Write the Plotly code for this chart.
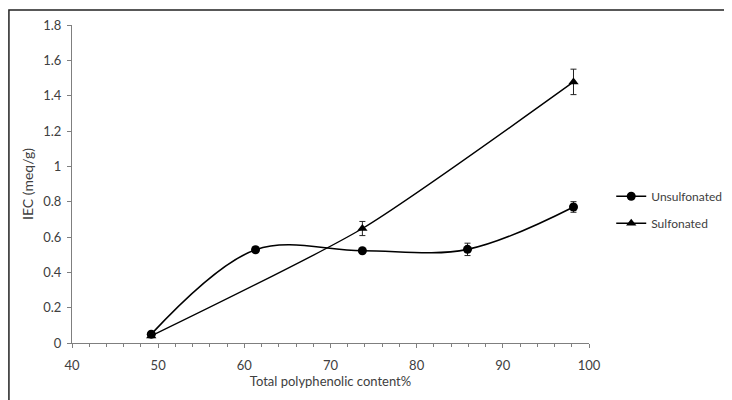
import plotly.graph_objects as go

# Data
x_unsulf = [49.2, 61.3, 73.7, 85.9, 98.2]
y_unsulf = [0.05, 0.528, 0.522, 0.53, 0.77]
e_unsulf = [0.01, 0.015, 0.01, 0.035, 0.03]

x_sulf = [49.2, 73.7, 98.2]
y_sulf = [0.04, 0.648, 1.478]
e_sulf = [0.01, 0.04, 0.072]

x_ticks = [40, 50, 60, 70, 80, 90, 100]
y_ticks = [0, 0.2, 0.4, 0.6, 0.8, 1, 1.2, 1.4, 1.6, 1.8]
y_ticklabels = ["0", "0.2", "0.4", "0.6", "0.8", "1", "1.2", "1.4", "1.6", "1.8"]

FONT = "Lato, 'Open Sans', sans-serif"
TXT = "#404040"

fig = go.Figure()
fig.add_trace(go.Scatter(
    x=x_unsulf, y=y_unsulf, name="Unsulfonated", mode="lines+markers",
    line=dict(color="black", width=1.6, shape="spline", smoothing=1),
    marker=dict(symbol="circle", size=9, color="black"),
    error_y=dict(type="data", array=e_unsulf, color="#222", thickness=1, width=3),
    legendgroup="a",
))
fig.add_trace(go.Scatter(
    x=x_sulf, y=y_sulf, name="Sulfonated", mode="lines+markers",
    line=dict(color="black", width=1.4, shape="spline", smoothing=0.6),
    marker=dict(symbol="triangle-up", size=9, color="black"),
    error_y=dict(type="data", array=e_sulf, color="#222", thickness=1, width=3),
    legendgroup="b",
))

fig.update_layout(
    width=724, height=392,
    margin=dict(l=64, r=143, t=17, b=57, autoexpand=False),
    paper_bgcolor="white", plot_bgcolor="white",
    font=dict(family=FONT, size=13, color=TXT),
    showlegend=True,
    legend=dict(x=1.043, y=0.419, xanchor="left", yanchor="middle",
                font=dict(family=FONT, size=12, color=TXT),
                tracegroupgap=8, bgcolor="rgba(0,0,0,0)"),
    xaxis=dict(range=[40, 100], tickvals=x_ticks, showgrid=False, zeroline=False,
               showline=True, linecolor="#7f7f7f", linewidth=1,
               ticks="outside", ticklen=4, tickcolor="#7f7f7f", ticklabelstandoff=6,
               minor=dict(dtick=2, ticks="outside", ticklen=3, tickcolor="#7f7f7f"),
               title=dict(text="Total polyphenolic content%", font=dict(size=13, color=TXT), standoff=5)),
    yaxis=dict(range=[0, 1.8], tickvals=y_ticks, ticktext=y_ticklabels, showgrid=False,
               zeroline=False, showline=True, linecolor="#7f7f7f", linewidth=1,
               ticks="outside", ticklen=4, tickcolor="#7f7f7f", ticklabelstandoff=3,
               title=dict(text="IEC (meq/g)", font=dict(size=14, color=TXT), standoff=6)),
)

# outer border (cut off on right and bottom like the reference)
fig.add_shape(type="rect", xref="paper", yref="paper",
              x0=-0.122, x1=1.5, y0=-0.5, y1=1.047,
              line=dict(color="#222", width=1.5), layer="below")

fig.write_html("out.html")
